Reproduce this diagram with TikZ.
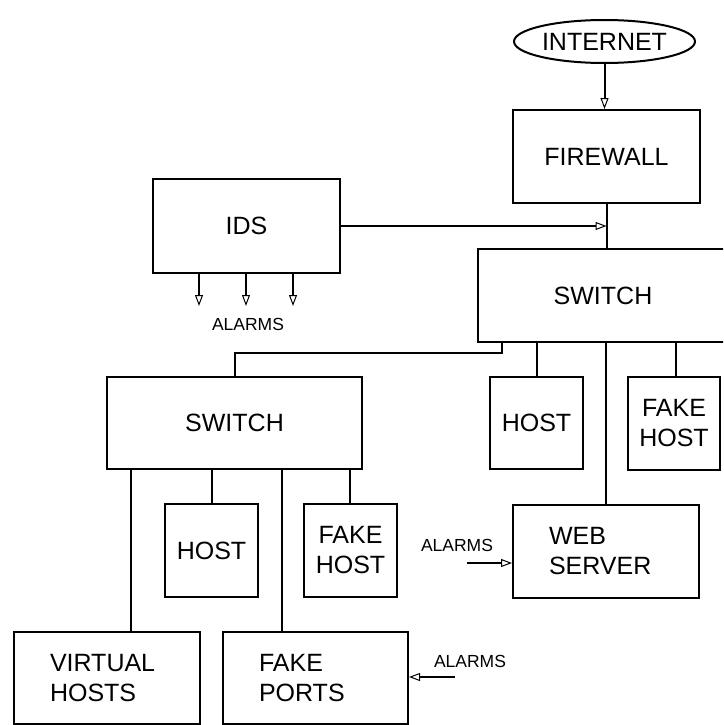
\documentclass[tikz,border=0pt]{standalone}
\usepackage{fontspec}
\setmainfont{Liberation Sans}
\usetikzlibrary{arrows.meta,shapes.geometric}

\tikzset{
  box/.style={draw, line width=2pt, rectangle, inner sep=0pt,
    font=\fontsize{25}{30}\selectfont, align=center},
  leftbox/.style={box, align=left, inner xsep=36pt},
  wire/.style={line width=2pt},
  sig/.style={line width=2pt,
    -{Triangle[open,length=11pt,width=8pt,line width=1pt]}},
  small/.style={font=\fontsize{17.5}{20}\selectfont, inner sep=0pt}
}

\begin{document}
\begin{tikzpicture}[x=1pt,y=-1pt]
  \useasboundingbox (0,0) rectangle (723,725);
  \clip (0,0) rectangle (723,725);

  % top of the network
  \node[box, ellipse, minimum width=181, minimum height=43] (inet) at (604.5,41.5) {INTERNET};
  \node[box, minimum width=187, minimum height=93] (fw) at (606.5,156.5) {FIREWALL};
  \node[box, minimum width=187, minimum height=94] (ids) at (246.5,226) {IDS};
  \node[box, minimum width=250, minimum height=93] (swa) at (603,295.5) {SWITCH};

  % second tier
  \node[box, minimum width=255, minimum height=92] (swb) at (234.5,423) {SWITCH};
  \node[box, minimum width=93, minimum height=92] (hosta) at (536.5,423) {HOST};
  \node[box, minimum width=92, minimum height=93] (fakea) at (674,423.5) {FAKE\\HOST};
  \node[leftbox, text width=114, minimum height=93] (web) at (606,551.5) {WEB\\SERVER};

  % hosts on the inner switch
  \node[box, minimum width=93, minimum height=93] (hostb) at (211.5,550.5) {HOST};
  \node[box, minimum width=93, minimum height=93] (fakeb) at (350.5,550.5) {FAKE\\HOST};
  \node[leftbox, text width=114, minimum height=92] (vh) at (107,678) {VIRTUAL\\HOSTS};
  \node[leftbox, text width=113, minimum height=92] (fp) at (315.5,678) {FAKE\\PORTS};

  % alarm labels
  \node[small] (alids) at (248,324) {ALARMS};
  \node[small] (alweb) at (457,545) {ALARMS};
  \node[small] (alfp) at (470,661) {ALARMS};

  % free ends of the alarm arrows
  \coordinate (a1) at (199,306);
  \coordinate (a2) at (246,306);
  \coordinate (a3) at (293,306);
  \coordinate (webin) at (467,563);
  \coordinate (fpin) at (455,677);

  % uplink
  \draw[sig] (inet.south) -- (inet.south |- fw.north);
  \draw[wire] (fw.south) -- (fw.south |- swa.north);
  \draw[sig] (ids.east) -- (ids.east -| fw.south);

  % IDS alarm outputs
  \draw[sig] (a1 |- ids.south) -- (a1);
  \draw[sig] (a2 |- ids.south) -- (a2);
  \draw[sig] (a3 |- ids.south) -- (a3);

  % outer switch ports
  \draw[wire] (502,342) -- (502,353) -- (235,353) -- (235,377);
  \draw[wire] (hosta.north |- swa.south) -- (hosta.north);
  \draw[wire] (606,342) -- (web.north);
  \draw[wire] (676,342) -- (676,377);

  % inner switch ports
  \draw[wire] (131,469) -- (131,632);
  \draw[wire] (212,469) -- (212,504);
  \draw[wire] (282,469) -- (282,632);
  \draw[wire] (350,469) -- (350,504);

  % alarm inputs
  \draw[sig] (webin) -- (webin -| web.west);
  \draw[sig] (fpin) -- (fpin -| fp.east);
\end{tikzpicture}
\end{document}
